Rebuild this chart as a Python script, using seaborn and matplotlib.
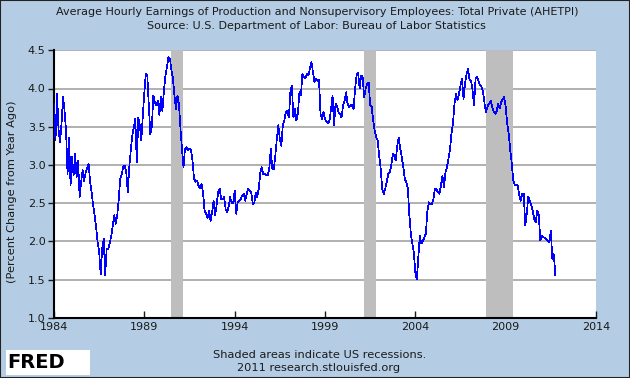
import numpy as np
import pandas as pd
import matplotlib
matplotlib.use("Agg")
import matplotlib.pyplot as plt
import matplotlib.ticker as mticker
from matplotlib.patches import Rectangle
import seaborn as sns

# AHETPI, percent change from year ago, monthly from Jan 1984
y1984 = [3.80, 3.32, 3.93, 3.47, 3.30, 3.54, 3.89, 3.71, 3.45, 2.88, 3.36, 2.73]
y1985 = [3.10, 2.86, 3.14, 2.84, 3.06, 2.58, 2.77, 2.93, 2.79, 2.90, 2.96, 3.01]
y1986 = [2.77, 2.64, 2.47, 2.34, 2.18, 1.99, 1.86, 1.57, 1.90, 2.03, 1.56, 1.90]
y1987 = [1.90, 1.97, 2.07, 2.20, 2.34, 2.23, 2.34, 2.55, 2.82, 2.88, 2.97, 2.99]
y1988 = [2.90, 2.64, 2.97, 3.19, 3.38, 3.49, 3.60, 3.03, 3.62, 3.52, 3.32, 3.65]
y1989 = [3.95, 4.19, 4.17, 3.76, 3.40, 3.51, 3.91, 3.82, 3.78, 3.84, 3.65, 3.89]
y1990 = [3.71, 3.97, 4.17, 4.28, 4.41, 4.39, 4.24, 4.13, 3.91, 3.73, 3.91, 3.80]
y1991 = [3.47, 3.21, 2.97, 3.21, 3.23, 3.19, 3.21, 3.19, 3.05, 2.82, 2.78, 2.79]
y1992 = [2.73, 2.69, 2.75, 2.64, 2.40, 2.36, 2.30, 2.40, 2.27, 2.38, 2.53, 2.34]
y1993 = [2.47, 2.64, 2.69, 2.55, 2.55, 2.58, 2.42, 2.38, 2.45, 2.58, 2.50, 2.50]
y1994 = [2.66, 2.36, 2.51, 2.53, 2.55, 2.60, 2.62, 2.53, 2.62, 2.69, 2.66, 2.64]
y1995 = [2.49, 2.50, 2.64, 2.58, 2.69, 2.90, 2.97, 2.88, 2.88, 2.87, 2.87, 2.95]
y1996 = [3.21, 2.95, 2.94, 3.12, 3.34, 3.52, 3.34, 3.25, 3.52, 3.58, 3.69, 3.71]
y1997 = [3.62, 3.95, 4.04, 3.62, 3.73, 3.58, 3.67, 3.95, 3.91, 4.19, 4.15, 4.13]
y1998 = [4.19, 4.17, 4.26, 4.35, 4.21, 4.08, 4.13, 4.10, 4.12, 3.67, 3.60, 3.69]
y1999 = [3.60, 3.56, 3.55, 3.58, 3.73, 3.91, 3.52, 3.80, 3.76, 3.69, 3.67, 3.62]
y2000 = [3.78, 3.84, 3.95, 3.80, 3.76, 3.78, 3.78, 3.73, 4.00, 4.17, 4.21, 4.00]
y2001 = [4.17, 4.15, 3.89, 4.00, 4.06, 4.08, 3.78, 3.76, 3.58, 3.45, 3.36, 3.32]
y2002 = [3.12, 2.95, 2.69, 2.62, 2.69, 2.77, 2.88, 2.90, 2.99, 3.14, 3.12, 3.06]
y2003 = [3.25, 3.36, 3.21, 3.10, 2.97, 2.82, 2.77, 2.69, 2.35, 2.10, 1.97, 1.86]
y2004 = [1.59, 1.50, 1.80, 2.07, 1.97, 2.01, 2.05, 2.10, 2.40, 2.51, 2.48, 2.49]
y2005 = [2.55, 2.69, 2.68, 2.64, 2.62, 2.73, 2.86, 2.71, 2.90, 2.97, 3.08, 3.20]
y2006 = [3.41, 3.54, 3.80, 3.93, 3.85, 3.93, 4.04, 4.13, 3.86, 4.06, 4.19, 4.26]
y2007 = [4.12, 4.10, 3.98, 3.78, 4.13, 4.15, 4.10, 4.04, 4.02, 3.95, 3.80, 3.69]
y2008 = [3.77, 3.80, 3.84, 3.76, 3.70, 3.67, 3.70, 3.80, 3.74, 3.82, 3.86, 3.89]
y2009 = [3.76, 3.55, 3.41, 3.20, 3.03, 2.80, 2.74, 2.74, 2.73, 2.60, 2.53, 2.62]
y2010 = [2.62, 2.21, 2.36, 2.58, 2.53, 2.47, 2.40, 2.29, 2.25, 2.40, 2.34, 2.01]
y2011 = [2.07, 2.05, 2.05, 2.03, 2.01, 1.99, 2.14, 1.77, 1.83, 1.55]

# recession periods (start, end) as month strings
recessions = [("1990-07", "1991-03"), ("2001-03", "2001-11"), ("2007-12", "2009-06")]

x_ticks = [1984, 1989, 1994, 1999, 2004, 2009, 2014]
y_ticks = [1.0, 1.5, 2.0, 2.5, 3.0, 3.5, 4.0, 4.5]

title_1 = "Average Hourly Earnings of Production and Nonsupervisory Employees: Total Private (AHETPI)"
title_2 = "Source: U.S. Department of Labor: Bureau of Labor Statistics"
y_label = "(Percent Change from Year Ago)"
note_1 = "Shaded areas indicate US recessions."
note_2 = "2011 research.stlouisfed.org"

values = (y1984 + y1985 + y1986 + y1987 + y1988 + y1989 + y1990 + y1991 + y1992
          + y1993 + y1994 + y1995 + y1996 + y1997 + y1998 + y1999 + y2000 + y2001
          + y2002 + y2003 + y2004 + y2005 + y2006 + y2007 + y2008 + y2009 + y2010 + y2011)

dates = pd.date_range("1984-01-01", periods=len(values), freq="MS")
df = pd.DataFrame({"year": dates.year + (dates.month - 1) / 12.0, "pct": values})


def frac_year(s):
    d = pd.Timestamp(s)
    return d.year + (d.month - 1) / 12.0


sns.set_style("white")
plt.rcParams["font.family"] = ["DejaVu Sans"]

bg = "#B4CDE4"
txt = "#1A1A1A"
W, H = 630, 378
fig = plt.figure(figsize=(W / 100, H / 100), dpi=100, facecolor=bg)

left, right, top, bottom = 54, 596, 50.3, 317.7
ax = fig.add_axes([left / W, 1 - bottom / H, (right - left) / W, (bottom - top) / H])
ax.set_facecolor("white")

ax.yaxis.grid(True, color="#AAAAAA", lw=1.3, zorder=0)
ax.xaxis.grid(False)
ax.set_axisbelow(True)

for s, e in recessions:
    ax.axvspan(frac_year(s), frac_year(e), color="#BEBEBE", lw=0, zorder=1)

sns.lineplot(data=df, x="year", y="pct", color="#0000FF", lw=0.5, ax=ax, zorder=3,
             antialiased=False)

ax.set_xlim(1984, 2014)
ax.set_ylim(1.0, 4.5)
ax.set_xticks(x_ticks)
ax.set_yticks(y_ticks)
ax.yaxis.set_major_formatter(mticker.FormatStrFormatter("%.1f"))
ax.set_xlabel("")
ax.set_ylabel("")

for side in ["top", "right"]:
    ax.spines[side].set_visible(False)
for side in ["left", "bottom"]:
    ax.spines[side].set_color("black")
    ax.spines[side].set_linewidth(1.5)

ax.tick_params(axis="x", direction="in", length=5, width=1, pad=3, labelsize=8, colors=txt)
ax.tick_params(axis="y", direction="out", length=4, width=1, pad=2, labelsize=8, colors=txt)
ax.tick_params(axis="x", bottom=True)
ax.tick_params(axis="y", left=True)

fig.text(12 / W, 1 - 192 / H, y_label, rotation=90, ha="center", va="center", fontsize=8.2, color=txt)
fig.text(0.503, 1 - 12 / H, title_1, ha="center", va="center", fontsize=8, color=txt)
fig.text(0.503, 1 - 26 / H, title_2, ha="center", va="center", fontsize=8, color=txt)
fig.text(320 / W, 1 - 355 / H, note_1, ha="center", va="center", fontsize=8.2, color=txt)
fig.text(319 / W, 1 - 368 / H, note_2, ha="center", va="center", fontsize=8.2, color=txt)

# FRED logo box
fig.patches.append(Rectangle((6 / W, 1 - 375 / H), 84 / W, 25 / H, transform=fig.transFigure,
                             facecolor="white", edgecolor="none"))
fig.text(7 / W, 1 - 363 / H, "FRED", ha="left", va="center", fontsize=14, fontweight="bold", color="black")

# border round the figure
fig.patches.append(Rectangle((0, 0), 1, 1, transform=fig.transFigure, fill=False,
                             edgecolor="#222222", lw=1.5))

fig.savefig("out.png", dpi=100, facecolor=fig.get_facecolor())
